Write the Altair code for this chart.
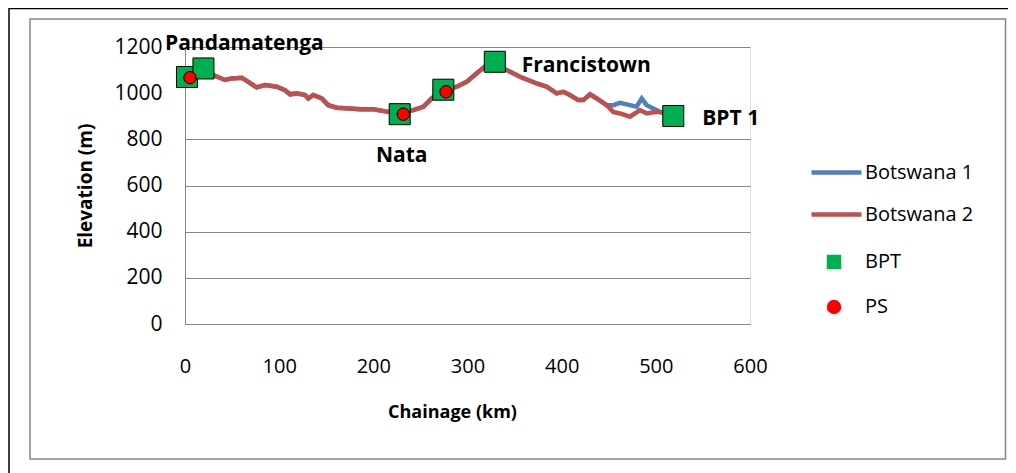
import altair as alt
import pandas as pd

# ---------------- data ----------------
series_names = ["Botswana 1", "Botswana 2"]

# common profile of both routes (they coincide up to about 448 km)
shared_km = [19.6, 31.9, 42.5, 49.6, 60.2, 67.2, 76.1, 85.0, 97.4, 106.2, 111.5,
             118.6, 127.4, 130.9, 136.2, 145.2, 152.2, 161.1, 175.2, 185.8, 200.0,
             215.9, 228.3, 242.4, 253.1, 262.0, 270.8, 277.0, 288.5, 299.1, 309.8,
             318.6, 329.2, 341.6, 355.7, 373.5, 384.1, 394.7, 401.7, 408.8, 417.6,
             423.0, 430.1, 437.2, 447.8]
shared_elev = [1107, 1075, 1057, 1064, 1067, 1049, 1025, 1035, 1028, 1013, 995,
               999, 992, 977, 992, 977, 948, 937, 934, 930, 930,
               919, 914, 927, 941, 977, 1006, 1013, 1028, 1049, 1086,
               1115, 1129, 1100, 1071, 1042, 1028, 999, 1006, 992, 970,
               970, 995, 977, 948]

b1_tail_km = [454.8, 461.9, 472.5, 479.6, 485.0, 490.3, 497.3, 504.4, 509.7]
b1_tail_elev = [948, 958, 948, 941, 977, 948, 934, 919, 912]
b2_tail_km = [454.8, 461.9, 472.5, 483.1, 490.3, 500.9, 507.6]
b2_tail_elev = [919, 912, 898, 927, 912, 919, 916]

point_types = ["BPT", "PS"]
bpt_km = [2.1, 19.6, 228.0, 274.3, 329.0, 518.5]
bpt_elev = [1070, 1107, 909, 1015, 1136, 901]
ps_km = [5.3, 231.8, 277.2]
ps_elev = [1067, 909, 1006]

label_texts = ["Pandamatenga", "Nata", "Francistown", "BPT 1"]
label_anchor = [0, 2, 4, 5]          # index into the BPT points

x_ticks = [0, 100, 200, 300, 400, 500, 600]
y_ticks = [0, 200, 400, 600, 800, 1000, 1200]

# ---------------- styling ----------------
FONT = "Open Sans"
GRAY = "#868686"
BLUE = "#4F81BD"
RED = "#C0504D"
GREEN = "#00B050"
PS_RED = "#FF0000"

label_style = [  # dx, dy, align
    (-22, -27, "left"),
    (2, 48, "center"),
    (27, 10, "left"),
    (29, 9, "left"),
]

# ---------------- tables ----------------
rows = []
for s, tk, te in [(series_names[0], b1_tail_km, b1_tail_elev),
                  (series_names[1], b2_tail_km, b2_tail_elev)]:
    kms = shared_km + tk
    els = shared_elev + te
    for i, (k, e) in enumerate(zip(kms, els)):
        rows.append({"series": s, "km": k, "elev": e, "idx": i})
line_df = pd.DataFrame(rows)

bpt_df = pd.DataFrame({"type": "BPT", "km": bpt_km, "elev": bpt_elev})
ps_df = pd.DataFrame({"type": "PS", "km": ps_km, "elev": ps_elev})

x_enc = alt.X(
    "km:Q",
    title="Chainage (km)",
    scale=alt.Scale(domain=[0, 600], nice=False),
    axis=alt.Axis(
        values=x_ticks, grid=False, ticks=False, tickSize=0,
        domain=True, domainColor=GRAY, domainWidth=1,
        labelFont=FONT, labelFontSize=20, labelColor="black",
        labelBaseline="alphabetic", labelPadding=48, labelFlush=False,
        titleFont=FONT, titleFontSize=18, titleFontWeight="bold", titleColor="black",
        titleX=267, titleY=93, titleBaseline="alphabetic",
    ),
)
y_enc = alt.Y(
    "elev:Q",
    title="Elevation (m)",
    scale=alt.Scale(domain=[0, 1200], nice=False),
    axis=alt.Axis(
        values=y_ticks, format="d", grid=True, gridColor=GRAY, gridWidth=1,
        gridOpacity={"condition": {"test": "datum.value === 1000", "value": 0}, "value": 1},
        ticks=False, tickSize=0,
        domain=True, domainColor=GRAY, domainWidth=1,
        labelFont=FONT, labelFontSize=21, labelColor="black", labelPadding=23,
        titleFont=FONT, titleFontSize=19, titleFontWeight="bold", titleColor="black",
        titlePadding=18,
    ),
)

lines = alt.Chart(line_df).mark_line(strokeWidth=4.5).encode(
    x=x_enc,
    y=y_enc,
    color=alt.Color(
        "series:N",
        scale=alt.Scale(domain=series_names, range=[BLUE, RED]),
        legend=alt.Legend(
            title=None, orient="none", legendX=624, legendY=98, padding=0,
            symbolType="stroke", symbolSize=2500, symbolStrokeWidth=4.5,
            labelFont=FONT, labelFontSize=20, labelColor="black", labelOffset=1,
            rowPadding=4,
        ),
    ),
    order="idx:Q",
)

pt_legend = alt.Legend(
    title=None, orient="none", legendX=639, legendY=205, padding=0,
    symbolSize=210, symbolStrokeColor="black", symbolStrokeWidth=1,
    labelFont=FONT, labelFontSize=20, labelColor="black", labelOffset=21,
    rowPadding=25,
)
shape_scale = alt.Scale(domain=point_types, range=["square", "circle"])
fill_scale = alt.Scale(domain=point_types, range=[GREEN, PS_RED])


def point_layer(df, size):
    return alt.Chart(df).mark_point(
        filled=False, opacity=1, fillOpacity=1, stroke="black", strokeWidth=1, size=size
    ).encode(
        x="km:Q",
        y="elev:Q",
        shape=alt.Shape("type:N", scale=shape_scale, legend=pt_legend),
        fill=alt.Fill("type:N", scale=fill_scale, legend=pt_legend),
    )


squares = point_layer(bpt_df, 441)
circles = point_layer(ps_df, 154)

texts = []
for txt, ai, (dx, dy, al) in zip(label_texts, label_anchor, label_style):
    tdf = pd.DataFrame({"km": [bpt_km[ai]], "elev": [bpt_elev[ai]], "label": [txt]})
    texts.append(
        alt.Chart(tdf).mark_text(
            dx=dx, dy=dy, align=al, baseline="alphabetic",
            font=FONT, fontSize=21, fontWeight="bold", color="black",
        ).encode(x="km:Q", y="elev:Q", text="label:N")
    )

frame_df = pd.DataFrame({"k": [0]})
inner_frame = alt.Chart(frame_df).mark_rect(fillOpacity=0, stroke=GRAY, strokeWidth=1.5).encode(
    x=alt.value(-155), x2=alt.value(820.5), y=alt.value(-28), y2=alt.value(412)
)
outer_frame = alt.Chart(frame_df).mark_rect(fillOpacity=0, stroke="black", strokeWidth=1.5).encode(
    x=alt.value(-176), x2=alt.value(830), y=alt.value(-38.5), y2=alt.value(440)
)

chart = alt.layer(outer_frame, inner_frame, lines, squares, circles, *texts).properties(
    width=565, height=277,
    padding={"left": 177, "top": 39, "right": 258, "bottom": 149},
    autosize=alt.AutoSizeParams(type="none"),
).configure_view(stroke=None).configure(background="white")

chart.save("out.html", embed_options={"renderer": "svg", "actions": False})
